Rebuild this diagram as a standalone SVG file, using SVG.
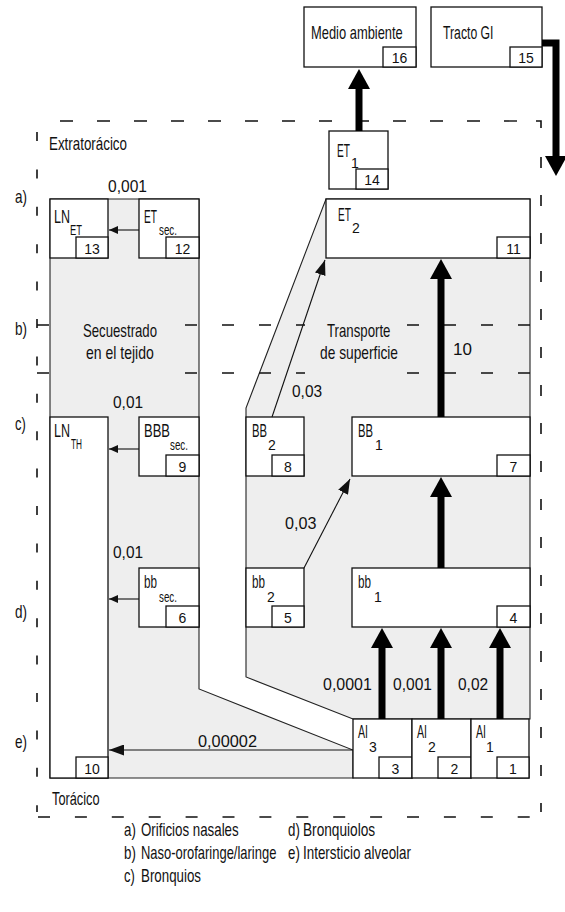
<svg xmlns="http://www.w3.org/2000/svg" width="565" height="912" viewBox="0 0 565 912">
<style>
text{font-family:"Liberation Sans",Arial,sans-serif;font-size:18px;fill:#111}
.v{font-size:17px}
.n{font-size:14px;text-anchor:middle}
.s{font-size:14px}
.box{fill:#fff;stroke:#111;stroke-width:1.3}
.reg{fill:#eeeeee;stroke:#222;stroke-width:1.1}
.dh{stroke:#111;stroke-width:1.4;fill:none;stroke-dasharray:12 25}
.dv{stroke:#111;stroke-width:1.6;fill:none}
.thin{stroke:#111;stroke-width:1.1;fill:none}
.thick{stroke:#000;stroke-width:7;fill:none}
</style>
<defs>
<marker id="ah" markerUnits="userSpaceOnUse" markerWidth="20" markerHeight="22" viewBox="0 0 20 22" refX="10" refY="11" orient="auto">
<path d="M0,0 L20,11 L0,22 z" fill="#000"/>
</marker>
<marker id="as" markerUnits="userSpaceOnUse" markerWidth="9" markerHeight="8" viewBox="0 0 9 8" refX="9" refY="4" orient="auto">
<path d="M0,0 L9,4 L0,8 z" fill="#111"/>
</marker>
<marker id="am" markerUnits="userSpaceOnUse" markerWidth="15" markerHeight="11" viewBox="0 0 15 11" refX="15" refY="5.5" orient="auto">
<path d="M0,0 L15,5.5 L0,11 z" fill="#111"/>
</marker>
</defs>

<g id="regions">
<polygon class="reg" points="50,199 199,199 199,689 353,750 353,778 50,778"/>
<polygon class="reg" points="326,199 530,199 530,719 353,719 246,677 246,408"/>
</g>

<g id="frame">
<line class="dh" x1="60" y1="121" x2="518" y2="121" style="stroke-dasharray:13 24"/>
<path class="dv" d="M536,121 H541 V128"/>
<line class="dv" x1="37" y1="132" x2="37" y2="812" style="stroke-dasharray:9 28.4"/>
<line class="dv" x1="541" y1="157" x2="541" y2="812" style="stroke-dasharray:11 27"/>
<line class="dh" x1="38" y1="817" x2="531" y2="817" style="stroke-dasharray:12 24.9"/>
<line class="dh" x1="37" y1="325" x2="530" y2="325"/>
<line class="dh" x1="37" y1="373" x2="530" y2="373"/>
<rect x="51" y="316" width="132" height="63" fill="#eeeeee"/>
<rect x="305" y="316" width="99" height="63" fill="#eeeeee"/>
</g>

<g id="n16"><rect class="box" x="304" y="7" width="112" height="60"/><rect class="box" x="383" y="47" width="33" height="20"/><text transform="translate(311 39) scale(0.717 1)">Medio ambiente</text><text class="n" x="399.5" y="63">16</text></g>
<g id="n15"><rect class="box" x="431" y="7" width="111" height="60"/><rect class="box" x="510" y="47" width="32" height="20"/><text transform="translate(443 39) scale(0.68 1)">Tracto GI</text><text class="n" x="526" y="63">15</text></g>
<g id="n14"><rect class="box" x="329" y="131" width="59" height="58"/><rect class="box" x="356" y="169" width="32" height="20"/><text transform="translate(337 157) scale(0.565 1)">ET</text><text class="s" x="351" y="168">1</text><text class="n" x="372" y="185">14</text></g>
<g id="n13"><rect class="box" x="50" y="199" width="58" height="59"/><rect class="box" x="76" y="237" width="32" height="21"/><text transform="translate(54 223) scale(0.696 1)">LN</text><text class="s" transform="translate(70 235) scale(0.67 1)">ET</text><text class="n" x="92" y="254">13</text></g>
<g id="n12"><rect class="box" x="139" y="199" width="60" height="59"/><rect class="box" x="166" y="237" width="33" height="21"/><text transform="translate(144 223) scale(0.565 1)">ET</text><text class="s" transform="translate(159 235) scale(0.7 1)">sec.</text><text class="n" x="182.5" y="254">12</text></g>
<g id="n11"><rect class="box" x="326" y="199" width="204" height="59"/><rect class="box" x="497" y="237" width="33" height="21"/><text transform="translate(338 221) scale(0.565 1)">ET</text><text class="s" x="352" y="233">2</text><text class="n" x="513.5" y="254">11</text></g>
<g id="n10"><rect class="box" x="50" y="417" width="58" height="361"/><rect class="box" x="76" y="757" width="32" height="21"/><text transform="translate(54 437) scale(0.696 1)">LN</text><text class="s" transform="translate(71 449) scale(0.59 1)">TH</text><text class="n" x="92" y="774">10</text></g>
<g id="n9"><rect class="box" x="139" y="417" width="60" height="59"/><rect class="box" x="166" y="455" width="33" height="21"/><text transform="translate(144 437) scale(0.72 1)">BBB</text><text class="s" transform="translate(170 450) scale(0.7 1)">sec.</text><text class="n" x="182.5" y="472">9</text></g>
<g id="n8"><rect class="box" x="246" y="417" width="58" height="59"/><rect class="box" x="272" y="455" width="32" height="21"/><text transform="translate(252 437) scale(0.625 1)">BB</text><text class="s" x="268" y="450">2</text><text class="n" x="288" y="472">8</text></g>
<g id="n7"><rect class="box" x="352" y="417" width="178" height="59"/><rect class="box" x="497" y="455" width="33" height="21"/><text transform="translate(358 437) scale(0.625 1)">BB</text><text class="s" x="375" y="450">1</text><text class="n" x="513.5" y="472">7</text></g>
<g id="n6"><rect class="box" x="139" y="568" width="60" height="59"/><rect class="box" x="166" y="606" width="33" height="21"/><text transform="translate(144 588) scale(0.65 1)">bb</text><text class="s" transform="translate(159 602) scale(0.7 1)">sec.</text><text class="n" x="182.5" y="623">6</text></g>
<g id="n5"><rect class="box" x="246" y="568" width="58" height="59"/><rect class="box" x="272" y="606" width="32" height="21"/><text transform="translate(252 588) scale(0.65 1)">bb</text><text class="s" x="267" y="602">2</text><text class="n" x="288" y="623">5</text></g>
<g id="n4"><rect class="box" x="352" y="568" width="178" height="59"/><rect class="box" x="497" y="606" width="33" height="21"/><text transform="translate(358 588) scale(0.65 1)">bb</text><text class="s" x="374" y="602">1</text><text class="n" x="513.5" y="623">4</text></g>
<g id="n3"><rect class="box" x="353" y="719" width="59" height="59"/><rect class="box" x="379" y="757" width="33" height="21"/><text transform="translate(358 738) scale(0.59 1)">AI</text><text class="s" x="369" y="752">3</text><text class="n" x="395.5" y="774">3</text></g>
<g id="n2"><rect class="box" x="412" y="719" width="59" height="59"/><rect class="box" x="438" y="757" width="33" height="21"/><text transform="translate(417 738) scale(0.59 1)">AI</text><text class="s" x="428" y="752">2</text><text class="n" x="454.5" y="774">2</text></g>
<g id="n1"><rect class="box" x="471" y="719" width="58" height="59"/><rect class="box" x="497" y="757" width="32" height="21"/><text transform="translate(476 738) scale(0.59 1)">AI</text><text class="s" x="486" y="752">1</text><text class="n" x="513" y="774">1</text></g>

<g id="connectors">
<path class="thick" d="M542,43 H556 V166" marker-end="url(#ah)"/>
<line class="thick" x1="359" y1="131" x2="359" y2="79" marker-end="url(#ah)"/>
<line class="thick" x1="441" y1="417" x2="441" y2="269" marker-end="url(#ah)"/>
<line class="thick" x1="441" y1="568" x2="441" y2="487" marker-end="url(#ah)"/>
<line class="thick" x1="382" y1="719" x2="382" y2="638" marker-end="url(#ah)"/>
<line class="thick" x1="441" y1="719" x2="441" y2="638" marker-end="url(#ah)"/>
<line class="thick" x1="500" y1="719" x2="500" y2="638" marker-end="url(#ah)"/>
<line class="thin" x1="139" y1="230" x2="109" y2="230" marker-end="url(#as)"/>
<line class="thin" x1="139" y1="449" x2="109" y2="449" marker-end="url(#as)"/>
<line class="thin" x1="139" y1="599" x2="109" y2="599" marker-end="url(#as)"/>
<line class="thin" x1="353" y1="750" x2="109" y2="750" marker-end="url(#am)"/>
<line class="thin" x1="272" y1="417" x2="325" y2="260" marker-end="url(#am)"/>
<line class="thin" x1="304" y1="568" x2="350" y2="479" marker-end="url(#am)"/>
</g>

<g id="labels">
<text transform="translate(49 150) scale(0.743 1)">Extratorácico</text>
<text transform="translate(52 805) scale(0.71 1)">Torácico</text>
<text transform="translate(15 203) scale(0.75 1)">a)</text>
<text transform="translate(15 335) scale(0.75 1)">b)</text>
<text transform="translate(15 430) scale(0.72 1)">c)</text>
<text transform="translate(15 618) scale(0.75 1)">d)</text>
<text transform="translate(15 748) scale(0.75 1)">e)</text>
<text class="v" transform="translate(108 192) scale(0.917 1)">0,001</text>
<text transform="translate(83 337) scale(0.733 1)">Secuestrado</text>
<text transform="translate(86 359) scale(0.78 1)">en el tejido</text>
<text transform="translate(327 337) scale(0.735 1)">Transporte</text>
<text transform="translate(320 359) scale(0.765 1)">de superficie</text>
<text class="v" x="453" y="355">10</text>
<text class="v" transform="translate(292 397) scale(0.91 1)">0,03</text>
<text class="v" transform="translate(113 408) scale(0.91 1)">0,01</text>
<text class="v" transform="translate(285 529) scale(0.95 1)">0,03</text>
<text class="v" transform="translate(113 558) scale(0.91 1)">0,01</text>
<text class="v" transform="translate(323 690) scale(0.94 1)">0,0001</text>
<text class="v" transform="translate(393 690) scale(0.917 1)">0,001</text>
<text class="v" transform="translate(458 690) scale(0.91 1)">0,02</text>
<text class="v" transform="translate(198 747) scale(0.96 1)">0,00002</text>
</g>

<g id="legend">
<text transform="translate(124 836) scale(0.74 1)">a)</text><text transform="translate(141 836) scale(0.74 1)">Orificios nasales</text>
<text transform="translate(124 859) scale(0.74 1)">b)</text><text transform="translate(141 859) scale(0.72 1)">Naso-orofaringe/laringe</text>
<text transform="translate(124 882) scale(0.72 1)">c)</text><text transform="translate(141 882) scale(0.74 1)">Bronquios</text>
<text transform="translate(288 836) scale(0.74 1)">d)</text><text transform="translate(303 836) scale(0.76 1)">Bronquiolos</text>
<text transform="translate(288 859) scale(0.74 1)">e)</text><text transform="translate(303 859) scale(0.745 1)">Intersticio alveolar</text>
</g>
</svg>
